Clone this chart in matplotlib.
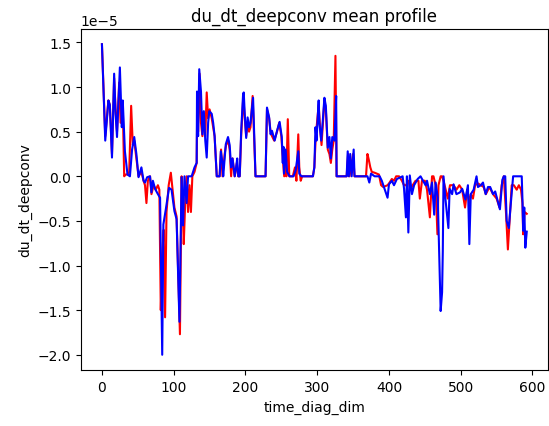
import matplotlib
matplotlib.use('Agg')
import matplotlib.pyplot as plt

# values in units of 1e-5
blue_x = [0, 4.6, 9, 11, 14, 17, 19, 21, 25, 27.7, 29, 32, 35.6, 39, 42, 45, 48, 51, 55, 58,
          60, 63, 67, 69, 71, 74, 78, 81, 84, 85.6, 89, 93.5, 97, 101, 104, 108, 111, 113, 115, 118,
          120, 125, 129, 132, 132.5, 134, 135.6, 138, 140, 142, 144, 146, 148, 149.5, 153, 155, 157, 160, 164, 165.7,
          168, 169, 171, 172.6, 175.7, 178, 180, 182, 185, 187, 188.5, 190, 192, 194, 196.7, 197.6, 199, 201, 203, 205,
          207, 210.6, 214, 228, 230, 233, 235, 237, 240.7, 244, 247.6, 250.6, 252, 253, 253.7, 256, 258, 261.5, 267, 270,
          273.6, 275, 278, 294, 296, 297.6, 299, 302, 303, 305.6, 308, 310, 312, 314.7, 317, 319, 321, 324, 326.4, 327,
          341, 342.5, 344, 346, 348, 350.8, 352, 370, 372.6, 375, 380, 387, 390, 398, 400, 404, 407, 411, 419, 421,
          423.6, 425, 427, 429, 432, 435, 440, 444, 446, 451, 453, 457, 460, 463, 465, 468, 472, 474, 475, 476,
          479, 482.8, 484.5, 488, 490, 494, 499, 502, 506.5, 510, 512, 514, 518, 522, 524, 528, 531, 534.7, 538, 541,
          545, 548, 551, 554.6, 558, 560, 562, 564, 567, 569, 573, 585, 586, 587, 588.5, 590, 592]
blue_y = [1.48, 0.40, 0.85, 0.80, 0.21, 1.15, 0.70, 0.44, 1.22, 0.55, 0.85, 0.28, 0.02, 0.0, 0.30, 0.44, 0.25, -0.01, 0.10, -0.05,
          -0.07, -0.01, 0.0, -0.18, -0.05, -0.14, -0.20, -0.24, -2.0, -0.54, -0.37, -0.13, -0.15, -0.39, -0.48, -1.63, -0.01, -0.55, 0.0, -0.30,
          0.0, 0.0, 0.10, 0.15, 0.95, 0.45, 1.20, 0.95, 0.47, 0.73, 0.40, 0.21, 0.60, 0.73, 0.70, 0.60, 0.45, 0.0, 0.0, 0.28,
          0.15, 0.0, 0.20, 0.36, 0.44, 0.35, 0.10, 0.20, 0.0, 0.10, 0.20, 0.0, 0.0, 0.50, 0.92, 0.94, 0.70, 0.43, 0.66, 0.55,
          0.60, 0.88, 0.0, 0.0, 0.77, 0.66, 0.47, 0.51, 0.40, 0.51, 0.61, 0.44, 0.15, 0.33, 0.03, 0.30, 0.05, 0.0, 0.0, 0.07,
          0.28, 0.03, 0.0, 0.0, 0.10, 0.55, 0.40, 0.85, 0.60, 0.40, 0.65, 0.88, 0.79, 0.32, 0.44, 0.20, 0.44, 0.40, 0.90, 0.0,
          0.0, 0.28, 0.0, 0.25, 0.0, 0.30, 0.0, 0.0, -0.07, 0.03, 0.0, 0.0, -0.05, -0.24, -0.09, -0.05, -0.10, -0.03, 0.0, -0.14,
          -0.46, 0.0, -0.63, 0.01, -0.20, -0.10, -0.03, 0.0, -0.03, -0.10, -0.05, -0.20, -0.07, -0.43, -0.07, -0.24, -1.51, -1.30, -0.84, 0.0,
          -0.28, -0.58, -0.14, -0.20, -0.09, -0.20, -0.18, -0.14, -0.26, -0.10, -0.76, -0.20, -0.15, 0.0, -0.12, -0.10, -0.07, -0.20, -0.12, -0.12,
          -0.20, -0.17, -0.26, -0.37, -0.04, 0.0, 0.0, -0.50, -0.58, -0.38, 0.0, 0.0, -0.26, -0.61, -0.35, -0.80, -0.62]

red_x = [0, 4.6, 9, 11, 14, 17, 19, 21, 24, 26, 27.7, 29, 31, 33, 35.6, 38, 40.7, 43, 45, 48,
         51, 55, 58, 60, 62, 64, 67, 69, 72, 75, 78, 80, 82, 84, 86, 88, 90, 93, 96, 99,
         101, 104, 108.7, 111, 113, 114, 116, 118, 120, 122, 124, 126, 129, 132, 133, 134, 136, 138, 140, 142,
         144, 146, 148, 150, 153, 155, 157, 160, 164, 166, 168, 171, 173, 176, 178, 180, 182, 185, 188, 190,
         192, 194, 197, 199, 201, 203, 205, 207, 210, 214, 228, 230, 233, 235, 237, 240, 244, 247, 250, 252,
         254, 256, 257, 259, 261, 263, 266, 269, 271, 273.6, 275, 277, 279, 294, 296, 298, 302, 304, 306, 308,
         310, 312, 314.7, 317, 319, 321, 323, 325.4, 327, 341, 343, 345, 350, 352, 368, 370, 372, 374, 376, 380,
         386, 389, 392, 398, 400, 404, 407, 410, 414, 418, 421, 424, 427, 430, 433, 437, 441, 443, 446, 450,
         453, 457, 460, 462, 465, 467.5, 469, 472, 474, 476, 479, 482, 485, 490, 494, 498, 502, 506, 509, 512,
         514, 517, 520, 524, 528, 532, 535, 540, 545, 550, 554, 557, 560, 563, 565.7, 568, 571, 574, 578, 581,
         584, 586, 587, 589, 592]
red_y = [1.48, 0.45, 0.85, 0.80, 0.25, 1.10, 0.75, 0.50, 1.05, 0.60, 0.60, 0.80, 0.0, 0.02, 0.02, 0.05, 0.79, 0.35, 0.40, 0.20,
         0.0, 0.05, -0.05, -0.10, -0.30, -0.05, 0.0, -0.20, -0.10, -0.15, -0.10, -0.15, -1.50, -0.90, -0.60, -1.58, -0.40, -0.10, 0.04, -0.20,
         -0.35, -0.45, -1.77, 0.0, -0.40, -0.76, -0.30, 0.0, -0.40, -0.10, -0.40, 0.0, 0.05, 0.15, 0.90, 0.50, 1.15, 0.60, 0.45, 0.70,
         0.45, 0.94, 0.65, 0.75, 0.65, 0.55, 0.45, 0.0, 0.0, 0.30, 0.0, 0.25, 0.35, 0.40, 0.30, 0.0, 0.20, 0.0, 0.15, 0.0,
         0.0, 0.45, 0.90, 0.65, 0.45, 0.60, 0.50, 0.55, 0.90, 0.0, 0.0, 0.75, 0.65, 0.50, 0.45, 0.40, 0.50, 0.60, 0.45, 0.20,
         0.0, 0.25, 0.0, 0.64, 0.0, 0.0, 0.0, 0.10, -0.05, 0.47, 0.10, -0.05, 0.0, 0.0, 0.10, 0.45, 0.80, 0.55, 0.35, 0.60,
         0.85, 0.75, 0.30, 0.25, 0.15, 0.30, 0.40, 1.35, 0.0, 0.0, 0.25, 0.0, 0.25, 0.0, 0.0, 0.25, 0.18, 0.10, 0.05, 0.04,
         0.02, -0.10, -0.12, -0.10, -0.08, -0.03, -0.05, 0.0, 0.0, -0.05, -0.10, -0.10, -0.05, -0.15, -0.10, -0.05, -0.05, -0.25, -0.05, -0.05,
         -0.15, -0.46, 0.0, 0.0, -0.10, -0.65, -0.10, 0.0, 0.0, -0.05, -0.15, -0.25, -0.10, -0.10, -0.15, -0.10, -0.15, -0.35, -0.15, -0.30,
         -0.20, -0.25, -0.10, -0.08, -0.10, -0.12, -0.20, -0.12, -0.20, -0.25, -0.35, -0.10, 0.0, -0.40, -0.82, -0.50, -0.10, -0.10, -0.15, -0.10,
         -0.15, -0.30, -0.65, -0.40, -0.42]

fig = plt.figure(figsize=(5.49, 4.27), dpi=100)
ax = fig.add_axes([80.7 / 549, 55.7 / 427, 467.3 / 549, 341.6 / 427])

ax.plot(red_x, [v * 1e-5 for v in red_y], color='red')
ax.plot(blue_x, [v * 1e-5 for v in blue_y], color='blue')

ax.set_title('du_dt_deepconv mean profile')
ax.set_xlabel('time_diag_dim')
ax.set_ylabel('du_dt_deepconv')

fig.savefig('out.png', dpi=100)
